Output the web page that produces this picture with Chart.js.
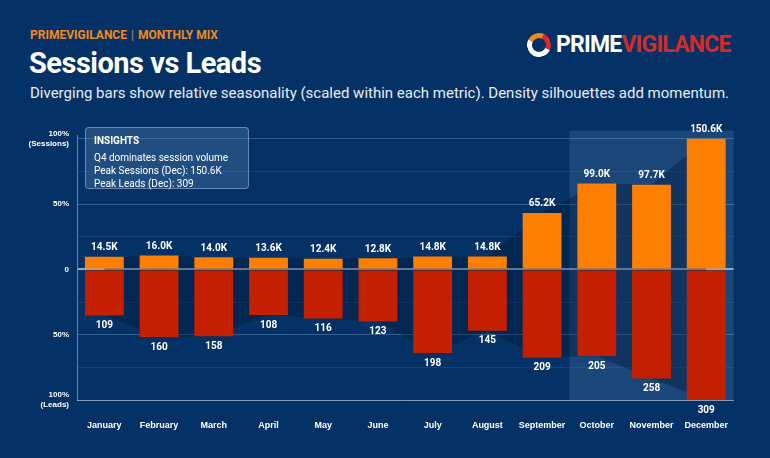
<!DOCTYPE html>
<html><head><meta charset="utf-8">
<script src="https://cdn.jsdelivr.net/npm/chart.js@4"></script>
<style>
body{margin:0;width:770px;height:458px;background:#053266;font-family:Roboto,"Liberation Sans",sans-serif;overflow:hidden;position:relative}
.kick{position:absolute;left:30px;top:28px;color:#f08a1c;font-size:12px;font-weight:700}
.kick span{color:#c98a5a;font-weight:400;margin:0 4px}
h1{position:absolute;left:29px;top:46px;margin:0;color:#fff;font-size:29px;font-weight:700;letter-spacing:-0.5px}
.sub{position:absolute;left:30px;top:84px;color:#e6ecf4;font-size:15px}
.logo{position:absolute;left:527px;top:31px;font-size:23px;font-weight:700;letter-spacing:-0.8px;display:flex;align-items:center}
.logo .p{color:#fff}.logo .v{color:#d42a2a}
.ring{width:14px;height:14px;border:5px solid #fff;border-radius:50%;border-top-color:#f08a1c;border-right-color:#d42a2a;margin-right:5px;transform:rotate(-20deg)}
.box{position:absolute;left:85px;top:127px;width:164px;height:62px;background:rgba(90,130,180,0.35);border:1px solid rgba(170,200,230,0.5);border-radius:4px;color:#fff;font-size:10px;line-height:13px;padding:0 0 0 8px;box-sizing:border-box}
.box b{display:block;margin:6px 0 4px}
#wrap{position:absolute;left:0;top:118px;width:740px;height:330px}
</style></head><body>
<div class="kick">PRIMEVIGILANCE<span>|</span>MONTHLY MIX</div>
<h1>Sessions vs Leads</h1>
<div class="sub">Diverging bars show relative seasonality (scaled within each metric). Density silhouettes add momentum.</div>
<div class="logo"><div class="ring"></div><span class="p">PRIME</span><span class="v">VIGILANCE</span></div>
<div id="wrap"><canvas id="c"></canvas></div>
<div class="box"><b>INSIGHTS</b>Q4 dominates session volume<br>Peak Sessions (Dec): 150.6K<br>Peak Leads (Dec): 309</div>
<script>
const months = ["January","February","March","April","May","June","July","August","September","October","November","December"];
const sessionsK = [14.5,16.0,14.0,13.6,12.4,12.8,14.8,14.8,65.2,99.0,97.7,150.6];
const leads = [109,160,158,108,116,123,198,145,209,205,258,309];
const highlight = ["October","November","December"];

const sMax = Math.max(...sessionsK), lMax = Math.max(...leads);
const sPct = sessionsK.map(v => v / sMax * 100);
const lPct = leads.map(v => -v / lMax * 100);

const q4 = {
  id: "q4",
  beforeDatasetsDraw(ch) {
    const x = ch.scales.x, a = ch.chartArea, ctx = ch.ctx;
    const i0 = months.indexOf(highlight[0]);
    const left = x.getPixelForValue(i0) - x.width / months.length / 2;
    ctx.save();
    ctx.fillStyle = "rgba(120,160,210,0.18)";
    ctx.fillRect(left, a.top - 5, a.right - left, a.bottom - a.top + 5);
    ctx.restore();
  }
};
const labels = {
  id: "labels",
  afterDatasetsDraw(ch) {
    const ctx = ch.ctx;
    ctx.save();
    ctx.fillStyle = "#fff";
    ctx.font = "bold 10px Roboto, sans-serif";
    ctx.textAlign = "center";
    ch.getDatasetMeta(2).data.forEach((b, i) => {
      ctx.textBaseline = "bottom";
      ctx.fillText(sessionsK[i].toFixed(1) + "K", b.x, b.y - 4);
    });
    ch.getDatasetMeta(3).data.forEach((b, i) => {
      ctx.textBaseline = "top";
      ctx.fillText(leads[i], b.x, b.y + 5);
    });
    ctx.restore();
  }
};

new Chart(document.getElementById("c"), {
  data: {
    labels: months,
    datasets: [
      { type: "line", data: sPct, fill: "origin", backgroundColor: "rgba(0,20,50,0.35)", borderWidth: 0, pointRadius: 0, tension: 0, order: 5 },
      { type: "line", data: lPct, fill: "origin", backgroundColor: "rgba(0,20,50,0.35)", borderWidth: 0, pointRadius: 0, tension: 0, order: 5 },
      { type: "bar", data: sPct, backgroundColor: "#ff7f00", barPercentage: 0.71, categoryPercentage: 1, stack: "s", order: 1 },
      { type: "bar", data: lPct, backgroundColor: "#c42000", barPercentage: 0.71, categoryPercentage: 1, stack: "s", order: 1 }
    ]
  },
  options: {
    responsive: true, maintainAspectRatio: false, animation: false,
    layout: { padding: { top: 10, right: 0, bottom: 0, left: 0 } },
    plugins: { legend: { display: false }, tooltip: { enabled: false } },
    scales: {
      x: {
        stacked: true,
        grid: { display: false },
        border: { color: "rgba(200,215,235,0.5)" },
        ticks: { color: "#fff", font: { size: 9, weight: "bold" }, padding: 12, maxRotation: 0 },
        afterFit: s => { s.height = 48; }
      },
      y: {
        stacked: false, min: -100, max: 102.5, afterBuildTicks: s => { s.ticks = [100,75,50,25,0,-25,-50,-75,-100].map(v => ({ value: v })); },
        grid: { color: c => [100,50,0,-50,-100].includes(c.tick.value) ? (c.tick.value === 0 ? "rgba(210,220,235,0.7)" : "rgba(150,180,215,0.35)") : "rgba(150,180,215,0.12)", lineWidth: c => c.tick.value === 0 ? 2 : 1, drawTicks: false },
        border: { color: "rgba(200,215,235,0.5)" },
        ticks: {
          color: "#fff", font: { size: 8, weight: "bold" }, padding: 8,
          callback: v => ({ "100": ["100%", "(Sessions)"], "50": "50%", "0": "0", "-50": "50%", "-100": ["100%", "(Leads)"] })[v] ?? ""
        },
        afterFit: s => { s.width = 77; }
      }
    }
  },
  plugins: [q4, labels]
});
</script>
</body></html>
